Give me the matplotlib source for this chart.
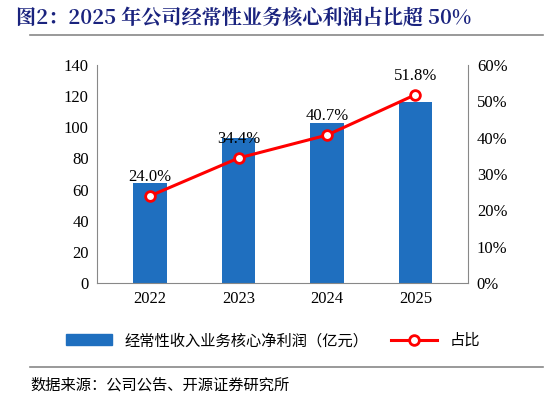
import matplotlib
matplotlib.use("Agg")
import matplotlib.pyplot as plt
from matplotlib.lines import Line2D

plt.rcParams['font.family'] = ['Noto Sans CJK SC', 'DejaVu Sans']

years = ['2022', '2023', '2024', '2025']
profit = [64.5, 93.0, 103.0, 116.0]
ratio = [24.0, 34.4, 40.7, 51.8]

fig = plt.figure(figsize=(5.46, 4.08), dpi=100)
ax = fig.add_axes([0.178, 0.306, 0.68, 0.535])
x = range(len(years))
ax.bar(x, profit, width=0.38, color='#1F6FBF', zorder=2)
ax.set_ylim(0, 140)
ax.set_yticks(range(0, 141, 20))
ax.set_xlim(-0.6, 3.6)
ax.set_xticks(list(x))
ax.set_xticklabels(years)
serif = ['Liberation Serif', 'Noto Sans CJK SC']
for lab in ax.get_xticklabels() + ax.get_yticklabels():
    lab.set_fontfamily(serif); lab.set_fontsize(12)
ax.tick_params(length=0, pad=6)
for s in ['top', 'right']:
    ax.spines[s].set_visible(False)
ax.spines['left'].set_color('#888888')
ax.spines['bottom'].set_color('#888888')

ax2 = ax.twinx()
ax2.plot(x, ratio, color='#FF0000', lw=2.2, marker='o', ms=7, mfc='white', mec='#FF0000', mew=2, zorder=3)
ax2.set_ylim(0, 60)
ax2.set_yticks(range(0, 61, 10))
ax2.set_yticklabels([f'{v}%' for v in range(0, 61, 10)])
for lab in ax2.get_yticklabels():
    lab.set_fontfamily(serif); lab.set_fontsize(12)
ax2.tick_params(length=0, pad=6)
for s in ['top', 'left', 'bottom']:
    ax2.spines[s].set_visible(False)
ax2.spines['right'].set_color('#888888')
for xi, r in zip(x, ratio):
    ax2.text(xi, r + 3, f'{r}%', ha='center', va='bottom', fontsize=12, family=serif)

fig.text(0.03, 0.955, '图2：2025 年公司经常性业务核心利润占比超 50%', fontsize=14.5,
         fontweight='bold', color='#1A237E', family=['Noto Serif CJK SC', 'Noto Sans CJK SC', 'DejaVu Sans'], va='center')
fig.add_artist(Line2D([0.055, 0.995], [0.915, 0.915], color='#888888', lw=1.2))
fig.add_artist(Line2D([0.055, 0.995], [0.1, 0.1], color='#888888', lw=1.2))

handles = [plt.Rectangle((0, 0), 1, 1, color='#1F6FBF'),
           Line2D([], [], color='#FF0000', lw=2.2, marker='o', ms=7, mfc='white', mew=2)]
fig.legend(handles, ['经常性收入业务核心净利润（亿元）', '占比'], loc='center', bbox_to_anchor=(0.5, 0.165),
           ncol=2, frameon=False, fontsize=11, handlelength=3, columnspacing=1.5)
fig.text(0.055, 0.055, '数据来源：公司公告、开源证券研究所', fontsize=11, va='center')
fig.savefig('out.png', dpi=100)
